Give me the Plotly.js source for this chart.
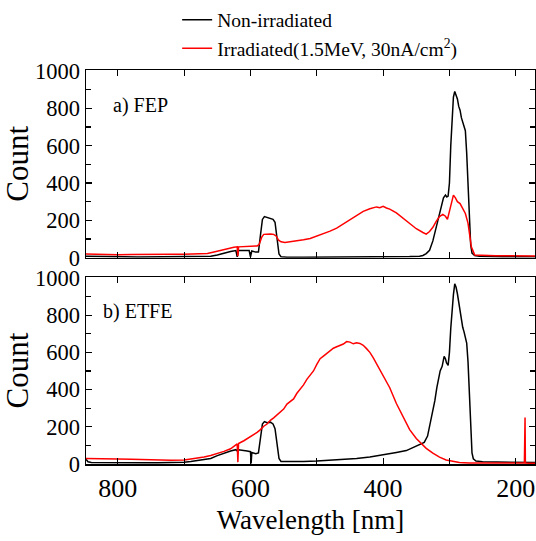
<!DOCTYPE html>
<html>
<head>
<meta charset="utf-8">
<script src="https://cdn.plot.ly/plotly-3.0.1.min.js"></script>
<style>html,body{margin:0;padding:0;background:#fff;}#chart{width:536px;height:541px;}</style>
</head>
<body>
<div id="chart"></div>
<script>
// ---- FEP (panel a) ----
const fepNonWl = [848,830,810,790,770,750,730,710,690,670,660,650,640,630,622,620,618,610,602,600,598,592,588,585,582,579,575,570,566,563,560,557,554,545,520,500,480,450,420,400,380,360,345,340,335,330,325,320,316,312,309,306,304,302,300,298,296,294,292,290,288,286,284,282,280,278,276,274,272,270,268,266,262,255,240,220,200,180,171];
const fepNonCount = [8,6,5,5,4,4,5,4,5,6,8,15,25,33,38,5,38,40,38,5,36,30,30,120,205,220,215,210,205,190,100,20,5,3,2,2,3,3,4,4,5,6,8,12,22,40,90,160,220,285,320,335,325,330,400,600,760,860,890,870,850,810,790,750,730,700,680,560,390,200,70,25,12,8,6,5,5,5,5];
const fepIrrWl = [848,835,820,800,780,760,740,720,700,680,665,655,645,635,625,620,619,618,610,600,595,590,587,583,580,575,570,565,561,558,554,548,540,530,520,510,500,490,480,470,460,450,440,430,420,410,405,400,395,390,380,370,360,350,340,335,330,325,320,315,310,306,303,300,297,294,291,288,284,280,276,272,269,267,262,250,230,210,190,171];
const fepIrrCount = [20,18,17,16,17,16,17,18,19,20,22,30,40,50,56,58,8,58,60,62,62,63,70,110,125,128,127,125,115,95,85,82,85,90,96,103,115,128,142,158,180,205,228,248,262,272,268,275,266,260,240,212,182,155,135,126,140,163,195,220,232,222,205,245,300,335,320,300,290,265,237,185,110,59,15,12,11,10,10,9];
// ---- ETFE (panel b) ----
const etfeNonWl = [848,845,840,820,800,780,760,740,720,700,690,680,670,660,650,640,630,622,620,618,610,605,600,599,598,592,588,585,582,579,575,570,566,563,560,557,554,545,520,500,480,460,440,420,400,380,365,355,345,338,333,329,325,322,319,317,314,311,308,306,304.5,302,300,298,296,294,292,290,288,286,284,282,280,278,276,274,272,270,268,266,264,260,250,230,210,190,171];
const etfeNonCount = [25,12,8,7,6,6,7,7,8,10,14,20,25,30,45,58,70,77,70,77,74,70,66,3,62,55,60,150,215,228,222,225,215,190,100,30,14,13,14,16,20,25,30,38,48,62,72,88,103,116,150,216,290,340,410,450,500,525,578,565,545,530,600,730,830,910,968,950,915,870,810,770,735,710,680,650,550,380,180,60,28,16,12,10,9,8,8];
const etfeIrrWl = [848,840,820,800,780,760,740,720,700,690,680,670,660,650,640,630,622,620,619,618,610,600,595,590,585,580,575,570,565,560,555,550,545,540,535,530,525,520,515,510,505,500,495,490,485,480,475,470,465,460,455,450,445,440,435,430,425,420,415,410,405,400,395,390,380,370,365,360,350,340,335,325,315,305,295,285,270,250,230,210,190,187,186,185.5,180,171];
const etfeIrrCount = [30,30,29,27,25,22,20,20,22,26,32,38,46,55,68,82,100,108,10,110,125,148,155,170,185,203,215,235,248,262,276,295,322,335,350,380,400,425,455,480,500,535,566,580,594,610,622,630,636,645,658,655,646,652,648,638,620,600,572,540,510,482,450,410,325,255,218,185,137,100,84,58,37,22,13,8,6,5,5,5,5,5,250,5,4,4];

const legendNames = ['Non-irradiated', 'Irradiated(1.5MeV, 30nA/cm<sup>2</sup>)'];
const panelLabels = ['a) FEP', 'b) ETFE'];
const xTicks = [800, 600, 400, 200];
const yTicks = [0, 200, 400, 600, 800, 1000];

const FONT = 'Liberation Serif';
const lineW = 1.5;

const traces = [
  {x: fepNonWl, y: fepNonCount, xaxis: 'x2', yaxis: 'y2', mode: 'lines', name: legendNames[0], line: {color: '#000', width: lineW}},
  {x: fepIrrWl, y: fepIrrCount, xaxis: 'x2', yaxis: 'y2', mode: 'lines', name: legendNames[1], line: {color: '#ff0000', width: lineW}},
  {x: etfeNonWl, y: etfeNonCount, xaxis: 'x', yaxis: 'y', mode: 'lines', name: legendNames[0], line: {color: '#000', width: lineW}, showlegend: false},
  {x: etfeIrrWl, y: etfeIrrCount, xaxis: 'x', yaxis: 'y', mode: 'lines', name: legendNames[1], line: {color: '#ff0000', width: lineW}, showlegend: false}
];

const xCommon = {
  range: [848, 171], showline: true, linecolor: '#000', linewidth: 1.5, mirror: 'allticks',
  ticks: 'inside', ticklen: 6, tickwidth: 1.2, tickcolor: '#000',
  tickvals: xTicks, zeroline: false, showgrid: false,
  minor: {dtick: 100, tick0: 0, ticks: 'inside', ticklen: 6, tickwidth: 1.2, tickcolor: '#000'},
  tickfont: {family: FONT, size: 26, color: '#000'}
};
const yCommon = {
  range: [0, 1005], showline: true, linecolor: '#000', linewidth: 1.5, mirror: 'allticks',
  ticks: 'inside', ticklen: 6, tickwidth: 1.2, tickcolor: '#000',
  tickvals: yTicks, zeroline: false, showgrid: false,
  minor: {dtick: 100, tick0: 0, ticks: 'inside', ticklen: 5, tickwidth: 1.2, tickcolor: '#000'},
  tickfont: {family: FONT, size: 22.5, color: '#000'},
  title: {text: 'Count', font: {family: FONT, size: 31, color: '#000'}, standoff: 4}
};

const layout = {
  width: 536, height: 541,
  margin: {l: 86, r: 1, t: 70, b: 77},
  paper_bgcolor: '#fff', plot_bgcolor: '#fff',
  font: {family: FONT, color: '#000'},
  showlegend: true,
  legend: {x: 0.203, y: 1.176, xanchor: 'left', yanchor: 'top', bgcolor: 'rgba(0,0,0,0)',
           font: {family: FONT, size: 19.5, color: '#000'}, tracegroupgap: 0, itemwidth: 30},
  xaxis: Object.assign({}, xCommon, {domain: [0, 1], anchor: 'y',
    title: {text: 'Wavelength [nm]', font: {family: FONT, size: 27, color: '#000'}, standoff: 8}}),
  xaxis2: Object.assign({}, xCommon, {domain: [0, 1], anchor: 'y2', matches: 'x', showticklabels: false}),
  yaxis: Object.assign({}, yCommon, {domain: [0, 0.4746], anchor: 'x'}),
  yaxis2: Object.assign({}, yCommon, {domain: [0.5236, 1], anchor: 'x2'}),
  annotations: [
    {text: panelLabels[0], xref: 'paper', yref: 'paper', x: 0.055, y: 0.911, xanchor: 'left', yanchor: 'middle', showarrow: false, font: {family: FONT, size: 20, color: '#000'}},
    {text: panelLabels[1], xref: 'paper', yref: 'paper', x: 0.033, y: 0.386, xanchor: 'left', yanchor: 'middle', showarrow: false, font: {family: FONT, size: 20, color: '#000'}}
  ]
};

Plotly.newPlot('chart', traces, layout, {staticPlot: true, displayModeBar: false});
</script>
</body>
</html>
